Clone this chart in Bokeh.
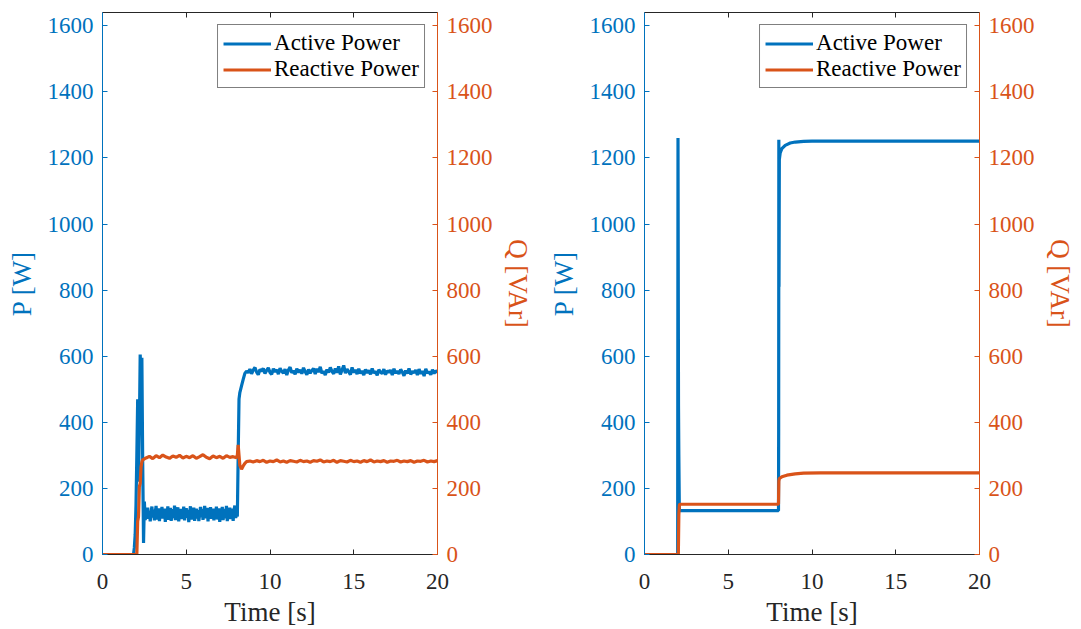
from bokeh.plotting import figure
from bokeh.models import Range1d, LinearAxis, FixedTicker, Legend, LegendItem
from bokeh.layouts import row
from bokeh.embed import file_html
from bokeh.resources import INLINE

# ---------------- data ----------------
x_ticks = [0, 5, 10, 15, 20]
y_ticks = [0, 200, 400, 600, 800, 1000, 1200, 1400, 1600]

# Left panel: Active power
t1_p = [0, 1.85, 1.9, 1.95, 2.0, 2.05, 2.1, 2.15, 2.2, 2.25, 2.3, 2.35, 2.4, 2.45,
        2.50, 2.55, 2.60, 2.65, 2.70, 2.75, 2.80, 2.85, 2.90, 2.95,
        3.00, 3.05, 3.10, 3.15, 3.20, 3.25, 3.30, 3.35, 3.40, 3.45,
        3.50, 3.55, 3.60, 3.65, 3.70, 3.75, 3.80, 3.85, 3.90, 3.95,
        4.00, 4.05, 4.10, 4.15, 4.20, 4.25, 4.30, 4.35, 4.40, 4.45,
        4.50, 4.55, 4.60, 4.65, 4.70, 4.75, 4.80, 4.85, 4.90, 4.95,
        5.00, 5.05, 5.10, 5.15, 5.20, 5.25, 5.30, 5.35, 5.40, 5.45,
        5.50, 5.55, 5.60, 5.65, 5.70, 5.75, 5.80, 5.85, 5.90, 5.95,
        6.00, 6.05, 6.10, 6.15, 6.20, 6.25, 6.30, 6.35, 6.40, 6.45,
        6.50, 6.55, 6.60, 6.65, 6.70, 6.75, 6.80, 6.85, 6.90, 6.95,
        7.00, 7.05, 7.10, 7.15, 7.20, 7.25, 7.30, 7.35, 7.40, 7.45,
        7.50, 7.55, 7.60, 7.65, 7.70, 7.75, 7.80, 7.85, 7.90, 7.95,
        8.00, 8.05, 8.1, 8.15, 8.2, 8.3, 8.4, 8.5, 8.6,
        8.7, 8.8, 8.9, 9.0, 9.1, 9.2, 9.3, 9.4, 9.5, 9.6,
        9.7, 9.8, 9.9, 10.0, 10.1, 10.2, 10.3, 10.4, 10.5, 10.6,
        10.7, 10.8, 10.9, 11.0, 11.1, 11.2, 11.3, 11.4, 11.5, 11.6,
        11.7, 11.8, 11.9, 12.0, 12.1, 12.2, 12.3, 12.4, 12.5, 12.6,
        12.7, 12.8, 12.9, 13.0, 13.1, 13.2, 13.3, 13.4, 13.5, 13.6,
        13.7, 13.8, 13.9, 14.0, 14.1, 14.2, 14.3, 14.4, 14.5, 14.6,
        14.7, 14.8, 14.9, 15.0, 15.1, 15.2, 15.3, 15.4, 15.5, 15.6,
        15.7, 15.8, 15.9, 16.0, 16.1, 16.2, 16.3, 16.4, 16.5, 16.6,
        16.7, 16.8, 16.9, 17.0, 17.1, 17.2, 17.3, 17.4, 17.5, 17.6,
        17.7, 17.8, 17.9, 18.0, 18.1, 18.2, 18.3, 18.4, 18.5, 18.6,
        18.7, 18.8, 18.9, 19.0, 19.1, 19.2, 19.3, 19.4, 19.5, 19.6,
        19.7, 19.8, 19.9, 20.0]
p1_vals = [0, 0, 20, 60, 150, 300, 470, 220, 380, 605, 540, 595, 280, 35,
           160, 104, 138, 115, 142, 108, 131, 100, 127, 145,
           112, 136, 103, 129, 147, 106, 122, 140, 101, 133,
           118, 144, 109, 126, 139, 99, 134, 113, 146, 105,
           128, 141, 102, 120, 137, 110, 148, 104, 131, 116,
           143, 100, 125, 138, 107, 132, 119, 145, 103, 129,
           140, 111, 135, 98, 124, 146, 106, 130, 117, 142,
           102, 127, 139, 109, 134, 101, 121, 144, 113, 137,
           105, 130, 147, 110, 123, 141, 100, 136, 115, 143,
           108, 128, 139, 103, 132, 118, 145, 106, 126, 140,
           99, 135, 112, 144, 104, 129, 138, 109, 147, 101,
           131, 116, 142, 107, 125, 139, 102, 134, 148, 111,
           120, 115, 300, 470, 490, 510, 530, 548, 555,
           550, 561, 547, 558, 566, 552, 544, 560, 555, 563,
           548, 557, 565, 551, 545, 562, 553, 559, 546, 564,
           554, 549, 561, 543, 558, 567, 550, 556, 545, 562,
           551, 559, 547, 565, 553, 544, 560, 549, 557, 563,
           546, 562, 552, 568, 548, 555, 543, 560, 551, 566,
           554, 547, 563, 550, 569, 545, 558, 572, 549, 561,
           553, 544, 566, 551, 559, 546, 562, 548, 556, 543,
           560, 550, 557, 545, 563, 549, 554, 542, 559, 552,
           547, 561, 544, 556, 551, 558, 543, 562, 549, 555,
           546, 560, 552, 541, 557, 548, 563, 545, 554, 550,
           558, 543, 561, 547, 555, 540, 562, 549, 553, 544,
           559, 548, 556, 551]

# Left panel: Reactive power
t1_q = [0, 2.05, 2.1, 2.15, 2.2, 2.25, 2.3, 2.35, 2.4, 2.5,
        2.6, 2.8, 3.0, 3.2, 3.4, 3.6, 3.8, 4.0, 4.2, 4.4, 4.6, 4.8, 5.0, 5.2,
        5.4, 5.6, 5.8, 6.0, 6.2, 6.4, 6.6, 6.8, 7.0, 7.2, 7.4, 7.6, 7.8, 8.0,
        8.05, 8.1, 8.15, 8.2, 8.3, 8.4, 8.5, 8.6,
        8.8, 9.0, 9.2, 9.4, 9.6, 9.8, 10.0, 10.2, 10.4, 10.6, 10.8, 11.0, 11.2, 11.4,
        11.6, 11.8, 12.0, 12.2, 12.4, 12.6, 12.8, 13.0, 13.2, 13.4, 13.6, 13.8, 14.0,
        14.2, 14.4, 14.6, 14.8, 15.0, 15.2, 15.4, 15.6, 15.8, 16.0, 16.2, 16.4, 16.6,
        16.8, 17.0, 17.2, 17.4, 17.6, 17.8, 18.0, 18.2, 18.4, 18.6, 18.8, 19.0, 19.2,
        19.4, 19.6, 19.8, 20.0]
q1_vals = [0, 0, 100, 115, 205, 215, 265, 280, 286, 289,
           292, 297, 290, 299, 293, 301, 295, 291, 298, 294, 300, 292, 297, 293,
           299, 291, 296, 302, 294, 290, 298, 293, 297, 291, 299, 294, 296, 293,
           300, 332, 300, 270, 258, 268, 276, 281,
           283, 280, 284, 281, 285, 279, 283, 281, 286, 280, 283, 279, 284, 282,
           280, 285, 281, 283, 279, 284, 282, 286, 280, 283, 281, 285, 279,
           284, 282, 280, 285, 281, 283, 279, 284, 281, 286, 280, 283, 281,
           284, 279, 283, 282, 285, 280, 283, 281, 284, 279, 283, 282, 285,
           280, 283, 281, 284]

# Right panel: Active power
t2_p = [0, 1.98, 2.0, 2.03, 2.05, 2.08, 8.0, 8.01, 8.02, 8.03, 8.05, 8.1, 8.2,
        8.4, 8.7, 9.0, 9.5, 10.0, 20.0]
p2_vals = [0, 0, 1260, 450, 300, 133, 133, 380, 1255, 810, 1195, 1215, 1228,
           1238, 1245, 1248, 1250, 1251, 1251]

# Right panel: Reactive power
t2_q = [0, 2.02, 2.05, 2.08, 2.1, 8.0, 8.02, 8.05, 8.2, 8.5, 9.0, 9.5, 10.5, 20.0]
q2_vals = [0, 0, 120, 148, 152, 152, 222, 230, 235, 240, 244, 246, 247, 247]

series_names = ["Active Power", "Reactive Power"]

# ---------------- style ----------------
BLUE = "#0072BD"
ORANGE = "#D95319"
DARK = "#262626"
FONT = "Liberation Serif"
TICK_FS = "23px"
LAB_FS = "27px"


def style_axis(ax, color, tick_standoff, label_standoff):
    ax.axis_line_color = color
    ax.major_tick_line_color = color
    ax.major_tick_in = 5
    ax.major_tick_out = 0
    ax.minor_tick_line_color = None
    ax.major_label_text_color = color
    ax.major_label_text_font = FONT
    ax.major_label_text_font_size = TICK_FS
    ax.major_label_standoff = tick_standoff
    ax.axis_label_text_color = color
    ax.axis_label_text_font = FONT
    ax.axis_label_text_font_size = LAB_FS
    ax.axis_label_text_font_style = "normal"
    ax.axis_label_standoff = label_standoff


def make_panel(tp, pv, tq, qv, width, bl, br):
    p = figure(width=width, height=629, x_range=Range1d(0, 20), y_range=Range1d(0, 1640),
               output_backend="svg", toolbar_location=None,
               min_border_left=bl, min_border_right=br, min_border_top=12, min_border_bottom=75,
               background_fill_color="white", border_fill_color="white")
    p.outline_line_color = None
    p.grid.visible = False
    p.extra_y_ranges = {"q": Range1d(0, 1640)}

    xa = p.xaxis[0]
    xa.ticker = FixedTicker(ticks=x_ticks)
    xa.axis_label = "Time [s]"
    style_axis(xa, DARK, 19, 5)

    ya = p.yaxis[0]
    ya.ticker = FixedTicker(ticks=y_ticks)
    ya.axis_label = "P [W]"
    style_axis(ya, BLUE, 9, 8)

    ra = LinearAxis(y_range_name="q", axis_label="Q [VAr]", ticker=FixedTicker(ticks=y_ticks))
    style_axis(ra, ORANGE, 9, 7)
    p.add_layout(ra, "right")

    # top box line with inward ticks, no labels
    ta = LinearAxis(ticker=FixedTicker(ticks=x_ticks))
    ta.axis_line_color = DARK
    ta.major_tick_line_color = DARK
    ta.major_tick_in = 5
    ta.major_tick_out = 0
    ta.minor_tick_line_color = None
    ta.major_label_text_color = None
    ta.major_label_text_font_size = "1px"
    ta.major_label_standoff = 0
    p.add_layout(ta, "above")

    r1 = p.line(tp, pv, line_color=BLUE, line_width=3.2)
    r2 = p.line(tq, qv, line_color=ORANGE, line_width=3.2, y_range_name="q")

    leg = Legend(items=[LegendItem(label=series_names[0], renderers=[r1]),
                        LegendItem(label=series_names[1], renderers=[r2])],
                 location="top_right")
    leg.border_line_color = "black"
    leg.border_line_width = 1
    leg.background_fill_color = "white"
    leg.background_fill_alpha = 1
    leg.label_text_font = FONT
    leg.label_text_font_size = "23px"
    leg.label_text_color = "black"
    leg.glyph_width = 48
    leg.glyph_height = 25
    leg.label_height = 25
    leg.label_standoff = 3
    leg.padding = 5
    leg.spacing = 0
    leg.margin = 12
    p.add_layout(leg, "center")
    return p


p1 = make_panel(t1_p, p1_vals, t1_q, q1_vals, 537, 102, 100)
p2 = make_panel(t2_p, p2_vals, t2_q, q2_vals, 544, 107, 102)

layout = row(p1, p2, spacing=0)
open("out.html", "w").write(file_html(layout, INLINE))
